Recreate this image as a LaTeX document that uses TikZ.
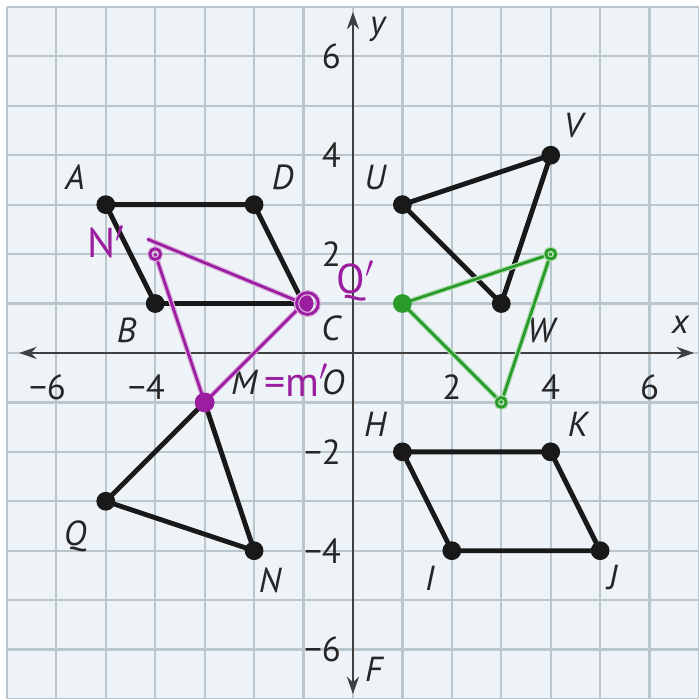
\documentclass[tikz,border=0pt]{standalone}
\usepackage{fontspec}
\setmainfont{PT Sans}
\usetikzlibrary{arrows.meta}
\definecolor{gridbg}{RGB}{237,243,246}
\definecolor{gridln}{RGB}{186,198,206}
\definecolor{pen}{RGB}{155,30,160}
\definecolor{marker}{RGB}{40,155,40}

\begin{document}
\begin{tikzpicture}[
  lbl/.style={font=\fontsize{20}{24}\selectfont\itshape, text=black!85, inner sep=0pt},
  num/.style={font=\fontsize{20}{24}\selectfont, text=black!85, inner sep=0pt},
  poly/.style={line width=2.8pt, black!90, line join=round},
  axis/.style={line width=1.1pt, black!75, {Stealth[length=10pt,width=7pt]}-{Stealth[length=10pt,width=7pt]}},
  ink/.style={line width=1.6pt, pen, line cap=round, line join=round, preaction={draw, pen!35, line width=3pt}},
  hl/.style={line width=1.6pt, marker, line cap=round, line join=round, preaction={draw, marker!35, line width=3pt}},
  inktext/.style={font=\fontsize{24}{26}\selectfont, text=pen, inner sep=0pt}
]
\useasboundingbox (-7.14,-7) rectangle (7,7.14);

% grid
\fill[gridbg] (-7,-7) rectangle (7,7);
\draw[gridln, line width=1.3pt] (-7,-7) grid (7,7);

% axes
\coordinate (xl) at (-6.75,0);
\coordinate (xr) at (6.9,0);
\coordinate (yb) at (0,-6.9);
\coordinate (yt) at (0,6.9);
\draw[axis] (xl) -- (xr);
\draw[axis] (yb) -- (yt);
\node[lbl] (xlab) at (6.62,0.57) {x};
\node[lbl] (ylab) at (0.5,6.55) {y};
\node[lbl] (flab) at (0.42,-6.4) {F};

\foreach \x in {2,4,6}
  \node[num] at (\x,-0.7) {\x};
\foreach \x in {6,4}
  \node[num] at (-\x,-0.7) {\llap{−}\x};
\foreach \y in {2,4,6}
  \node[num, anchor=east] at (-0.24,\y) {\y};
\foreach \y in {2,4,6}
  \node[num, anchor=east] at (-0.24,-\y) {−\y};

% points
\coordinate (A) at (-5,3);
\coordinate (D) at (-2,3);
\coordinate (C) at (-1,1);
\coordinate (B) at (-4,1);
\coordinate (U) at (1,3);
\coordinate (V) at (4,4);
\coordinate (W) at (3,1);
\coordinate (H) at (1,-2);
\coordinate (K) at (4,-2);
\coordinate (J) at (5,-4);
\coordinate (I) at (2,-4);
\coordinate (M) at (-3,-1);
\coordinate (N) at (-2,-4);
\coordinate (Q) at (-5,-3);

\draw[poly] (A) -- (D) -- (C) -- (B) -- cycle;
\draw[poly] (U) -- (V) -- (W) -- cycle;
\draw[poly] (H) -- (K) -- (J) -- (I) -- cycle;
\draw[poly] (M) -- (N) -- (Q) -- cycle;
\foreach \p in {A,B,C,D,U,V,W,H,I,J,K,M,N,Q}
  \fill[black!90] (\p) circle (0.19);

\node[lbl] (Alab) at (-5.62,3.55) {A};
\node[lbl] (Dlab) at (-1.42,3.55) {D};
\node[lbl] (Blab) at (-4.58,0.45) {B};
\node[lbl] (Clab) at (-0.45,0.5) {C};
\node[lbl] (Mlab) at (-2.2,-0.6) {M};
\node[lbl] (Olab) at (-0.4,-0.6) {O};
\node[lbl] (Nlab) at (-1.68,-4.6) {N};
\node[lbl] (Qlab) at (-5.62,-3.7) {Q};
\node[lbl] (Ulab) at (0.45,3.55) {U};
\node[lbl] (Vlab) at (4.45,4.6) {V};
\node[lbl] (Wlab) at (3.8,0.45) {W};
\node[lbl] (Hlab) at (0.45,-1.45) {H};
\node[lbl] (Klab) at (4.55,-1.45) {K};
\node[lbl] (Ilab) at (1.55,-4.55) {I};
\node[lbl] (Jlab) at (5.25,-4.55) {J};

% handwritten image M'N'Q'
\coordinate (N1) at (-4,2);
\draw[ink] (-4.15,2.3) -- (C);
\draw[ink] (N1) -- (M) -- (C);
\draw[ink] (N1) circle (0.11);
\fill[pen] (C) circle (0.2);
\draw[ink] (C) ++(0.08,0) circle (0.22);
\fill[pen] (M) circle (0.2);
\node[inktext] (N1lab) at (-5.0,2.25) {N$'$};
\node[inktext] (Q1lab) at (0.05,1.45) {Q$'$};
\node[inktext, anchor=west] (M1lab) at (-1.8,-0.55) {=m$'$};

% handwritten green triangle
\coordinate (G1) at (1,1);
\coordinate (G2) at (4,2);
\coordinate (G3) at (3,-1);
\draw[hl] (G1) -- (G2) -- (G3) -- cycle;
\fill[marker] (G1) circle (0.19);
\draw[hl] (G2) circle (0.1);
\draw[hl] (G3) circle (0.1);
\end{tikzpicture}
\end{document}
